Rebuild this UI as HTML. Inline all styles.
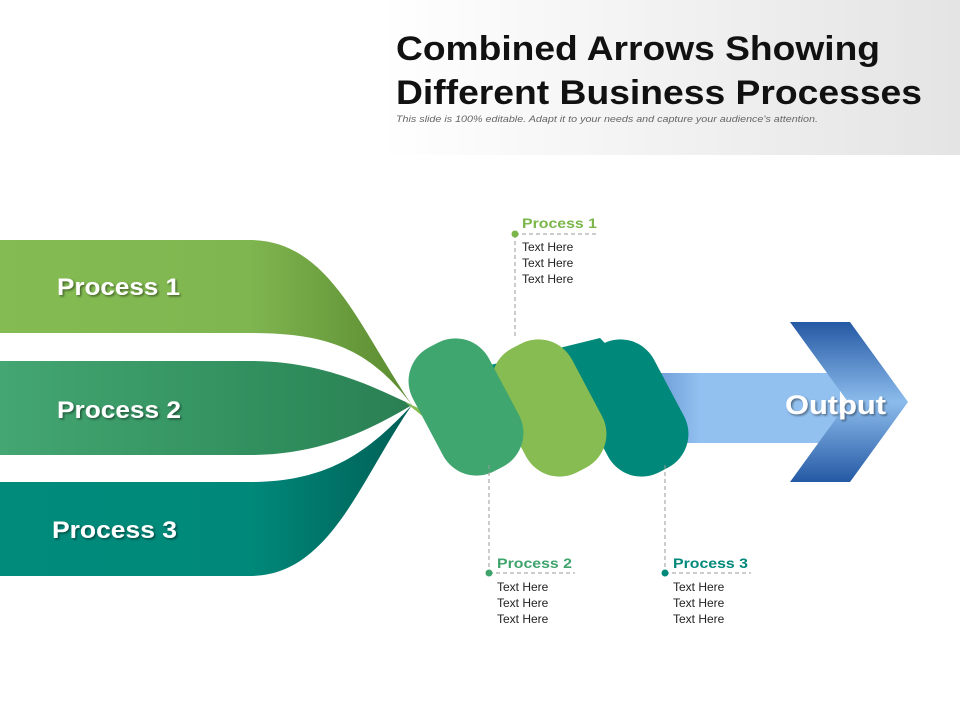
<!DOCTYPE html>
<html><head><meta charset="utf-8"><style>
html,body{margin:0;padding:0;background:#fff}
body{width:960px;height:720px;overflow:hidden;position:relative;font-family:"Liberation Sans",sans-serif}
</style></head><body>
<svg width="960" height="720" viewBox="0 0 960 720" xmlns="http://www.w3.org/2000/svg" style="position:absolute;left:0;top:0">
<defs>
<linearGradient id="hdr" x1="0" x2="1" y1="0" y2="0"><stop offset="0" stop-color="#ffffff"/><stop offset="1" stop-color="#e4e4e4"/></linearGradient>
<linearGradient id="b1" x1="0" x2="1"><stop offset="0" stop-color="#84bb52"/><stop offset="0.6" stop-color="#80b650"/><stop offset="1" stop-color="#5a8a30"/></linearGradient>
<linearGradient id="b2" x1="0" x2="1"><stop offset="0" stop-color="#44a672"/><stop offset="0.7" stop-color="#2f8d5c"/><stop offset="1" stop-color="#2a7f52"/></linearGradient>
<linearGradient id="b3" x1="0" x2="1"><stop offset="0" stop-color="#008b7b"/><stop offset="0.6" stop-color="#00897a"/><stop offset="1" stop-color="#005f56"/></linearGradient>
<linearGradient id="ch" x1="0" x2="0" y1="0" y2="1"><stop offset="0" stop-color="#2559a4"/><stop offset="0.5" stop-color="#8cbcec"/><stop offset="1" stop-color="#2559a4"/></linearGradient>
<linearGradient id="sh" x1="0" x2="1"><stop offset="0" stop-color="#5f8fd0"/><stop offset="0.3" stop-color="#92c0ef"/><stop offset="1" stop-color="#92c0ef"/></linearGradient>
<filter id="ds" x="-20%" y="-20%" width="140%" height="140%"><feDropShadow dx="1.5" dy="1.5" stdDeviation="1" flood-color="#000" flood-opacity="0.45"/></filter>
</defs>
<rect x="380" y="0" width="580" height="155" fill="url(#hdr)"/>
<text x="396" y="60" font-size="34" font-weight="bold" fill="#111" textLength="484" lengthAdjust="spacingAndGlyphs">Combined Arrows Showing</text>
<text x="396" y="104" font-size="34" font-weight="bold" fill="#111" textLength="526" lengthAdjust="spacingAndGlyphs">Different Business Processes</text>
<text x="396" y="122" font-size="9.5" font-style="italic" fill="#666" textLength="422" lengthAdjust="spacingAndGlyphs">This slide is 100% editable. Adapt it to your needs and capture your audience's attention.</text>

<path d="M0,240 L250,240 C330,240 360,330 412,405 C370,350 330,333 250,333 L0,333 Z" fill="url(#b1)"/>
<path d="M0,361 L250,361 C320,361 370,385 412,405 C370,430 320,455 250,455 L0,455 Z" fill="url(#b2)"/>
<path d="M0,482 L250,482 C330,482 370,450 412,405 C360,480 330,576 250,576 L0,576 Z" fill="url(#b3)"/>
<path d="M405,402 L440,418 L452,440 Z" fill="#86bc51"/>

<rect x="640" y="373" width="200" height="70" fill="url(#sh)"/>
<polygon points="790,322 850,322 908,402 850,482 790,482 848,402" fill="url(#ch)"/>
<text x="785" y="414" font-size="27" font-weight="bold" fill="#fff" filter="url(#ds)" textLength="101" lengthAdjust="spacingAndGlyphs">Output</text>

<polygon points="470,370 600,338 640,380 500,420" fill="#00897b"/>
<rect x="-43" y="-70" width="86" height="140" rx="38" fill="#00897b" transform="translate(631,408) rotate(-28)"/>
<rect x="-43" y="-70" width="86" height="140" rx="38" fill="#86bc51" transform="translate(549,408) rotate(-28)"/>
<rect x="-43" y="-70" width="86" height="140" rx="38" fill="#40a66f" transform="translate(466,407) rotate(-28)"/>

<g font-size="24" font-weight="bold" fill="#fff" filter="url(#ds)">
<text x="57" y="295" textLength="123" lengthAdjust="spacingAndGlyphs">Process 1</text>
<text x="57" y="418" textLength="124" lengthAdjust="spacingAndGlyphs">Process 2</text>
<text x="52" y="538" textLength="125" lengthAdjust="spacingAndGlyphs">Process 3</text>
</g>

<g stroke="#999" stroke-width="1" stroke-dasharray="4,3" fill="none">
<line x1="515" y1="234" x2="597" y2="234"/><line x1="515" y1="234" x2="515" y2="336"/>
<line x1="489" y1="573" x2="575" y2="573"/><line x1="489" y1="465" x2="489" y2="573"/>
<line x1="665" y1="573" x2="751" y2="573"/><line x1="665" y1="465" x2="665" y2="573"/>
</g>
<circle cx="515" cy="234" r="3.5" fill="#7ab648"/>
<circle cx="489" cy="573" r="3.5" fill="#3fa46c"/>
<circle cx="665" cy="573" r="3.5" fill="#00897b"/>
<g font-size="14" font-weight="bold">
<text x="522" y="228" fill="#7ab648" textLength="75" lengthAdjust="spacingAndGlyphs">Process 1</text>
<text x="497" y="568" fill="#3fa46c" textLength="75" lengthAdjust="spacingAndGlyphs">Process 2</text>
<text x="673" y="568" fill="#00897b" textLength="75" lengthAdjust="spacingAndGlyphs">Process 3</text>
</g>
<g font-size="12" fill="#222">
<text x="522" y="251">Text Here</text><text x="522" y="267">Text Here</text><text x="522" y="283">Text Here</text>
<text x="497" y="591">Text Here</text><text x="497" y="607">Text Here</text><text x="497" y="623">Text Here</text>
<text x="673" y="591">Text Here</text><text x="673" y="607">Text Here</text><text x="673" y="623">Text Here</text>
</g>
</svg>
</body></html>
